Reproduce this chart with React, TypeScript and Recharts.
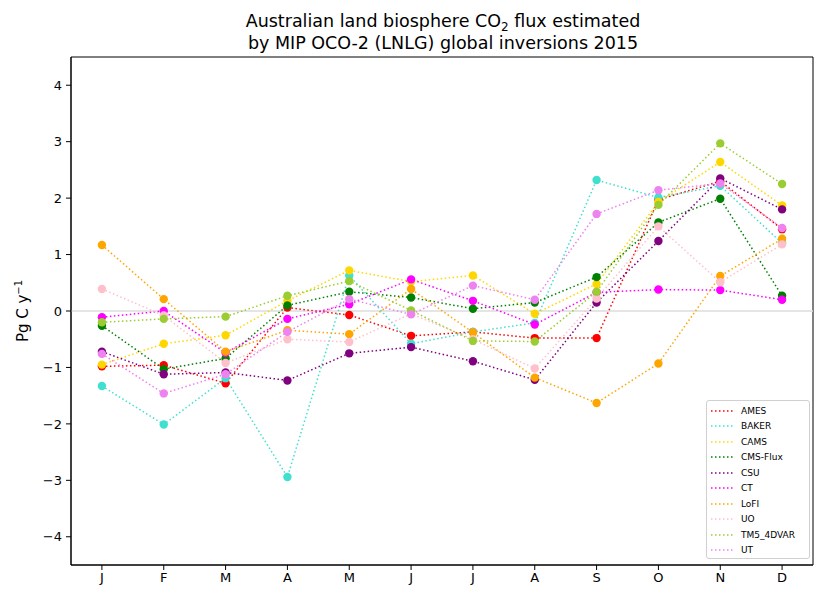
import React from 'react';
import { LineChart, Line, XAxis, YAxis, ReferenceLine, ReferenceArea, Legend, Customized } from 'recharts';

const FONT = '"DejaVu Sans", sans-serif';

const months = ['J', 'F', 'M', 'A', 'M', 'J', 'J', 'A', 'S', 'O', 'N', 'D'];
const yTicks = [-4, -3, -2, -1, 0, 1, 2, 3, 4];

const AMES = [-0.98, -0.96, -1.28, 0.06, -0.07, -0.44, -0.37, -0.48, -0.48, 1.97, 2.3, 1.45];
const BAKER = [-1.33, -2.01, -1.19, -2.94, 0.63, -0.58, -0.37, -0.21, 2.32, 2.01, 2.22, 1.2];
const CAMS = [-0.95, -0.58, -0.43, 0.18, 0.72, 0.52, 0.63, -0.05, 0.48, 1.93, 2.64, 1.87];
const CMS_FLUX = [-0.26, -1.03, -0.84, 0.1, 0.34, 0.24, 0.04, 0.15, 0.6, 1.57, 1.99, 0.27];
const CSU = [-0.72, -1.12, -1.09, -1.23, -0.75, -0.64, -0.89, -1.22, 0.15, 1.24, 2.35, 1.8];
const CT = [-0.11, 0.0, -0.74, -0.14, 0.12, 0.56, 0.18, -0.24, 0.33, 0.38, 0.37, 0.2];
const LOFI = [1.17, 0.21, -0.72, -0.34, -0.41, 0.39, -0.38, -1.18, -1.63, -0.93, 0.62, 1.28];
const UO = [0.39, -0.08, -0.92, -0.5, -0.55, -0.05, -0.5, -1.02, 0.22, 1.5, 0.51, 1.18];
const TM5 = [-0.2, -0.14, -0.1, 0.27, 0.53, 0.01, -0.53, -0.54, 0.34, 1.88, 2.97, 2.25];
const UT = [-0.76, -1.46, -1.12, -0.37, 0.21, -0.06, 0.45, 0.2, 1.72, 2.14, 2.26, 1.47];

const seriesNames = ['AMES', 'BAKER', 'CAMS', 'CMS-Flux', 'CSU', 'CT', 'LoFI', 'UO', 'TM5_4DVAR', 'UT'];
const seriesValues = [AMES, BAKER, CAMS, CMS_FLUX, CSU, CT, LOFI, UO, TM5, UT];
const seriesColors = ['#ff0000', '#40e0d0', '#ffd700', '#008000', '#800080', '#ff00ff', '#ffa500', '#ffc0cb', '#9acd32', '#ee82ee'];

const data = months.map((m, i) => {
  const row: Record<string, number> = { i };
  seriesNames.forEach((n, k) => {
    row[n] = seriesValues[k][i];
  });
  return row;
});

const fmtY = (v: number) => (v < 0 ? '\u2212' + Math.abs(v) : String(v));

const Texts = () => (
  <g fontFamily={FONT} fill="#000">
    <text x={443} y={27} textAnchor="middle" fontSize={17.5}>
      Australian land biosphere CO
      <tspan fontSize={12} dy={4}>2</tspan>
      <tspan dy={-4}> flux estimated</tspan>
    </text>
    <text x={443} y={49} textAnchor="middle" fontSize={17.5}>
      by MIP OCO-2 (LNLG) global inversions 2015
    </text>
    <text x={28} y={311} textAnchor="middle" fontSize={15} transform="rotate(-90 28 311)">
      Pg C y
      <tspan fontSize={10} dy={-6}>{'\u22121'}</tspan>
    </text>
  </g>
);

const LegendBox = () => (
  <div
    style={{
      width: 104,
      height: 159,
      border: '1px solid #d0d0d0',
      borderRadius: 3,
      background: 'rgba(255,255,255,0.8)',
      boxSizing: 'border-box',
      fontFamily: FONT,
      fontSize: 9,
      color: '#000',
      paddingTop: 2,
    }}
  >
    {seriesNames.map((n, k) => (
      <div key={n} style={{ display: 'flex', alignItems: 'center', height: 15.5 }}>
        <svg width={34} height={10} style={{ flex: 'none' }}>
          <line x1={4} x2={27} y1={5} y2={5} stroke={seriesColors[k]} strokeWidth={1.5} strokeDasharray="1.5 2.5" />
        </svg>
        <span style={{ lineHeight: '10px' }}>{n}</span>
      </div>
    ))}
  </div>
);

export default function App() {
  return (
    <div style={{ position: 'absolute', left: 0, top: 0, width: 814, height: 592, background: '#fff' }}>
      <LineChart width={814} height={592} data={data} margin={{ top: 57, right: 1, bottom: 0, left: 0 }}>
        <ReferenceLine y={0} stroke="#dcdcdc" strokeWidth={1.5} />
        <XAxis
          type="number"
          dataKey="i"
          domain={[-0.5, 11.5]}
          ticks={[0, 1, 2, 3, 4, 5, 6, 7, 8, 9, 10, 11]}
          tickFormatter={(v: number) => months[v]}
          height={27}
          tickSize={5}
          tickMargin={3}
          axisLine={{ stroke: '#000' }}
          tickLine={{ stroke: '#000' }}
          tick={{ fill: '#000', fontSize: 13, fontFamily: FONT }}
          allowDataOverflow
        />
        <YAxis
          type="number"
          domain={[-4.5, 4.5]}
          ticks={yTicks}
          tickFormatter={fmtY}
          width={71}
          tickSize={5}
          tickMargin={4}
          axisLine={{ stroke: '#000' }}
          tickLine={{ stroke: '#000' }}
          tick={{ fill: '#000', fontSize: 13, fontFamily: FONT }}
          allowDataOverflow
        />
        <ReferenceArea x1={-0.5} x2={11.5} y1={-4.5} y2={4.5} fill="none" stroke="#000" strokeWidth={1} ifOverflow="visible" />
        {seriesNames.map((n, k) => (
          <Line
            key={n}
            type="linear"
            dataKey={n}
            stroke={seriesColors[k]}
            strokeWidth={1.5}
            strokeDasharray="1.5 2.5"
            dot={{ r: 4.2, fill: seriesColors[k], stroke: seriesColors[k], strokeWidth: 0, strokeDasharray: '' }}
            activeDot={false}
            isAnimationActive={false}
          />
        ))}
        <Legend
          layout="vertical"
          align="center"
          verticalAlign="middle"
          wrapperStyle={{ left: 706, top: 400, width: 104, height: 159 }}
          content={() => <LegendBox />}
        />
        <Customized component={Texts} />
      </LineChart>
    </div>
  );
}
